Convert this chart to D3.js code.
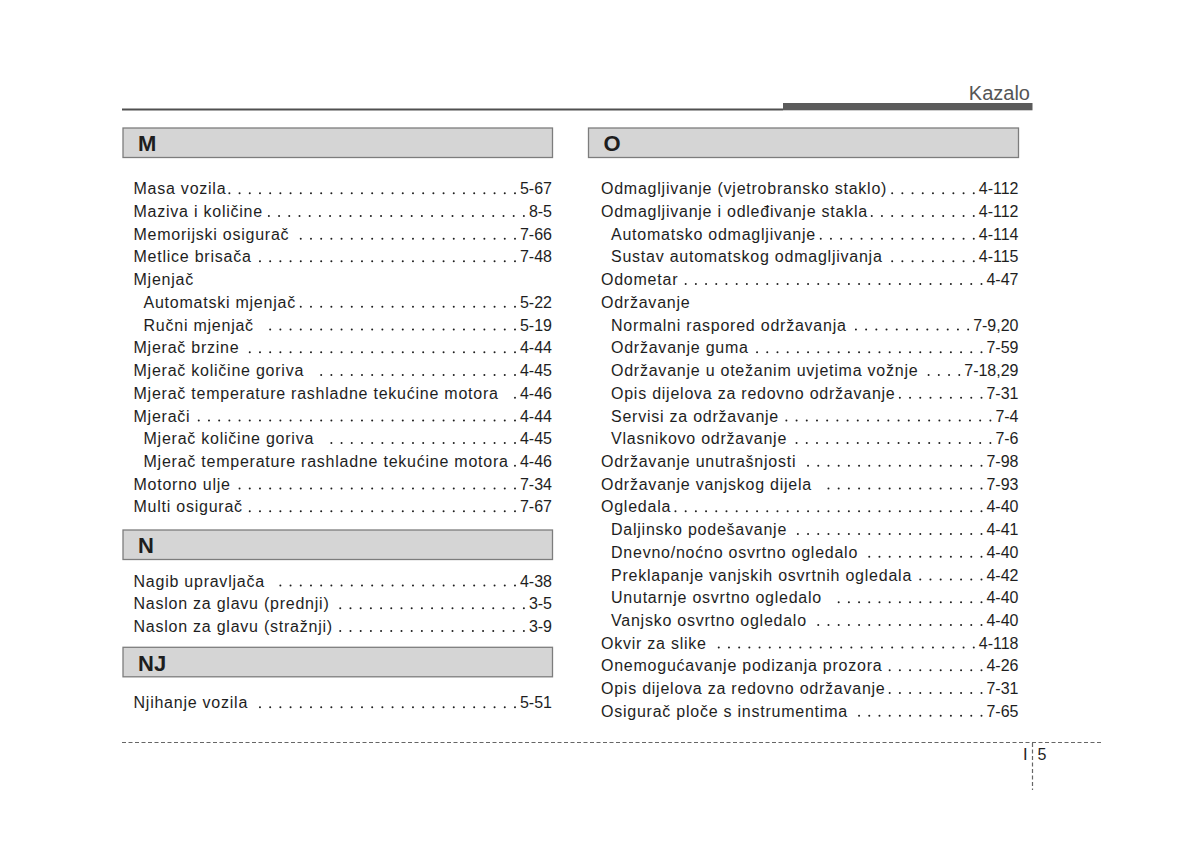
<!DOCTYPE html>
<html>
<head>
<meta charset="utf-8">
<script src="https://cdn.jsdelivr.net/npm/d3@7/dist/d3.min.js"></script>
<style>
  html, body { margin: 0; padding: 0; background: #fff; }
  svg { display: block; }
  text { font-family: "Liberation Sans", Arial, sans-serif; }
</style>
</head>
<body>
<svg id="page" width="1200" height="845"></svg>
<script>
// ---- data ----
const pageTitle = "Kazalo";
const pageRoman = "I";
const pageNumber = "5";

const leftSections = ["M", "N", "NJ"];
const rightSections = ["O"];

// [label, page, level]
const entriesM = [
  ["Masa vozila", "5-67", 0],
  ["Maziva i količine", "8-5", 0],
  ["Memorijski osigurač", "7-66", 0],
  ["Metlice brisača", "7-48", 0],
  ["Mjenjač", "", 0],
  ["Automatski mjenjač", "5-22", 1],
  ["Ručni mjenjač ", "5-19", 1],
  ["Mjerač brzine", "4-44", 0],
  ["Mjerač količine goriva ", "4-45", 0],
  ["Mjerač temperature rashladne tekućine motora ", "4-46", 0],
  ["Mjerači", "4-44", 0],
  ["Mjerač količine goriva ", "4-45", 1],
  ["Mjerač temperature rashladne tekućine motora", "4-46", 1],
  ["Motorno ulje", "7-34", 0],
  ["Multi osigurač", "7-67", 0]
];
const entriesN = [
  ["Nagib upravljača ", "4-38", 0],
  ["Naslon za glavu (prednji)", "3-5", 0],
  ["Naslon za glavu (stražnji) ", "3-9", 0]
];
const entriesNJ = [
  ["Njihanje vozila", "5-51", 0]
];
const entriesO = [
  ["Odmagljivanje (vjetrobransko staklo)", "4-112", 0],
  ["Odmagljivanje i odleđivanje stakla", "4-112", 0],
  ["Automatsko odmagljivanje", "4-114", 1],
  ["Sustav automatskog odmagljivanja", "4-115", 1],
  ["Odometar", "4-47", 0],
  ["Održavanje", "", 0],
  ["Normalni raspored održavanja ", "7-9,20", 1],
  ["Održavanje guma ", "7-59", 1],
  ["Održavanje u otežanim uvjetima vožnje", "7-18,29", 1],
  ["Opis dijelova za redovno održavanje", "7-31", 1],
  ["Servisi za održavanje", "7-4", 1],
  ["Vlasnikovo održavanje", "7-6", 1],
  ["Održavanje unutrašnjosti", "7-98", 0],
  ["Održavanje vanjskog dijela ", "7-93", 0],
  ["Ogledala", "4-40", 0],
  ["Daljinsko podešavanje", "4-41", 1],
  ["Dnevno/noćno osvrtno ogledalo ", "4-40", 1],
  ["Preklapanje vanjskih osvrtnih ogledala ", "4-42", 1],
  ["Unutarnje osvrtno ogledalo ", "4-40", 1],
  ["Vanjsko osvrtno ogledalo", "4-40", 1],
  ["Okvir za slike ", "4-118", 0],
  ["Onemogućavanje podizanja prozora", "4-26", 0],
  ["Opis dijelova za redovno održavanje", "7-31", 0],
  ["Osigurač ploče s instrumentima ", "7-65", 0]
];

const sectionEntries = { M: entriesM, N: entriesN, NJ: entriesNJ, O: entriesO };

// ---- layout ----
const svg = d3.select("#page");
const ink = "#1e1e1e";
const grey = "#555";

const columns = [
  { sections: leftSections, boxX0: 123, boxX1: 552.5, textX: 133.5, numX: 552 },
  { sections: rightSections, boxX0: 588.5, boxX1: 1018.5, textX: 601, numX: 1018.5 }
];
const sectionLayout = {
  M:  { boxTop: 128, firstBaseline: 194.3 },
  N:  { boxTop: 530, firstBaseline: 586.6 },
  NJ: { boxTop: 647.3, firstBaseline: 708.3 },
  O:  { boxTop: 128, firstBaseline: 194.3 }
};
const rowStep = 22.72;
const boxH = 29.5;
const indentW = 10;
const dotPitch = 10.2;
const tracking = 0.76;

// header rules
const topRule = d3.scaleLinear().domain([0, 1]).range([122, 1032.5]);
svg.append("line")
  .attr("x1", topRule(0)).attr("x2", 783)
  .attr("y1", 109.5).attr("y2", 109.5)
  .attr("stroke", "#505050").attr("stroke-width", 1.8);
svg.append("rect")
  .attr("x", 783).attr("y", 103).attr("width", topRule(1) - 783).attr("height", 7.3)
  .attr("fill", "#5b5b5b");
svg.append("text")
  .attr("x", 1030).attr("y", 99.5)
  .attr("text-anchor", "end")
  .attr("font-size", 20).attr("fill", grey)
  .text(pageTitle);

// columns
columns.forEach(col => {
  col.sections.forEach(sec => {
    const lay = sectionLayout[sec];
    const g = svg.append("g");
    g.append("rect")
      .attr("x", col.boxX0).attr("y", lay.boxTop)
      .attr("width", col.boxX1 - col.boxX0).attr("height", boxH)
      .attr("fill", "#d5d5d5").attr("stroke", "#7d7d7d").attr("stroke-width", 1.3);
    g.append("text")
      .attr("x", col.boxX0 + 15).attr("y", lay.boxTop + 23.2)
      .attr("font-size", 22).attr("font-weight", "bold").attr("fill", ink)
      .text(sec);

    const entries = sectionEntries[sec];
    const y = d3.scaleLinear().domain([0, 1]).range([lay.firstBaseline, lay.firstBaseline + rowStep]);
    const rows = g.selectAll("g.row").data(entries).join("g").attr("class", "row");

    rows.each(function (d, i) {
      const row = d3.select(this);
      const by = y(i);
      const lab = row.append("text")
        .attr("x", col.textX + d[2] * indentW).attr("y", by)
        .attr("font-size", 16).attr("fill", ink)
        .attr("letter-spacing", tracking)
        .attr("xml:space", "preserve")
        .style("white-space", "pre")
        .text(d[0]);
      if (!d[1]) return;
      const num = row.append("text")
        .attr("x", col.numX).attr("y", by)
        .attr("text-anchor", "end")
        .attr("font-size", 16).attr("fill", ink)
        .text(d[1]);
      const labEnd = col.textX + d[2] * indentW + lab.node().getComputedTextLength();
      const numStart = col.numX - num.node().getComputedTextLength();
      const lastDot = numStart - 5;
      const n = Math.floor((lastDot - labEnd - 2) / dotPitch) + 1;
      const dots = d3.range(Math.max(n, 0)).map(k => lastDot - k * dotPitch);
      row.selectAll("circle.dot").data(dots).join("circle")
        .attr("class", "dot")
        .attr("cx", dx => dx).attr("cy", by - 1.1)
        .attr("r", 1.0).attr("fill", ink);
    });
  });
});

// footer
svg.append("line")
  .attr("x1", 122).attr("x2", 1101)
  .attr("y1", 742.5).attr("y2", 742.5)
  .attr("stroke", "#666").attr("stroke-width", 1.2)
  .attr("stroke-dasharray", "4,2.5");
svg.append("line")
  .attr("x1", 1032.5).attr("x2", 1032.5)
  .attr("y1", 743).attr("y2", 790)
  .attr("stroke", "#666").attr("stroke-width", 1.2)
  .attr("stroke-dasharray", "4,2.5");
svg.append("text")
  .attr("x", 1027.5).attr("y", 759.5)
  .attr("text-anchor", "end")
  .attr("font-family", "Liberation Serif, serif")
  .attr("font-size", 16.5).attr("fill", ink)
  .text(pageRoman);
svg.append("text")
  .attr("x", 1037.5).attr("y", 759.5)
  .attr("font-size", 16).attr("fill", ink)
  .text(pageNumber);
</script>
</body>
</html>
